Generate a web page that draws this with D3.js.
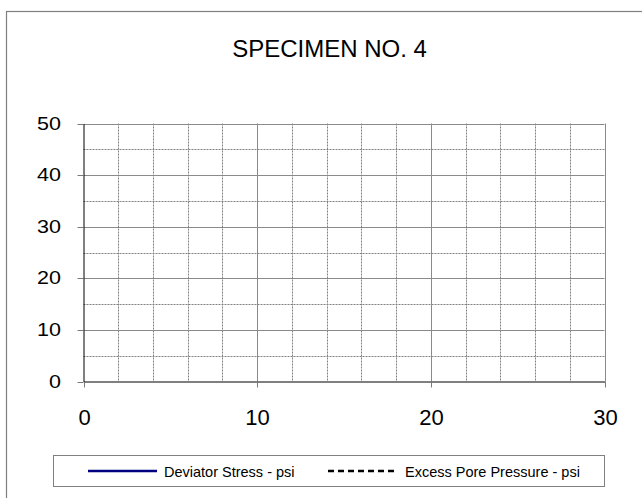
<!DOCTYPE html>
<html>
<head>
<meta charset="utf-8">
<script src="https://cdn.jsdelivr.net/npm/d3@7"></script>
<style>
  html, body { margin: 0; padding: 0; background: #fff; }
  svg { display: block; font-family: "Liberation Sans", Arial, sans-serif; }
</style>
</head>
<body>
<svg id="chart" width="642" height="498"></svg>
<script>
// ---- data ----
const chartTitle = "SPECIMEN NO. 4";
const xTicks = [0, 10, 20, 30];
const yTicks = [0, 10, 20, 30, 40, 50];
const xMinorTicks = [2, 4, 6, 8, 12, 14, 16, 18, 22, 24, 26, 28];
const yMinorTicks = [5, 15, 25, 35, 45];
const seriesNames = ["Deviator Stress - psi", "Excess Pore Pressure - psi"];
// the specimen plot carries no recorded points
const deviatorStress = [];      // [strain, psi]
const excessPorePressure = [];  // [strain, psi]

// ---- layout ----
const svg = d3.select("#chart");
const plot = { left: 83.5, right: 604.5, top: 123.5, bottom: 381.5 };

const x = d3.scaleLinear().domain([0, 30]).range([plot.left, plot.right]);
const y = d3.scaleLinear().domain([0, 50]).range([plot.bottom, plot.top]);

svg.append("rect").attr("width", 642).attr("height", 498).attr("fill", "#fff");

// outer chart border (only top and left visible in frame)
svg.append("rect")
  .attr("x", 6.5).attr("y", 11.5).attr("width", 700).attr("height", 600)
  .attr("fill", "none").attr("stroke", "#7f7f7f").attr("stroke-width", 1.2);

// title
svg.append("text")
  .attr("x", 329.5).attr("y", 57)
  .attr("text-anchor", "middle")
  .attr("font-size", 24)
  .attr("fill", "#000")
  .text(chartTitle);

// minor gridlines
const grid = svg.append("g");
grid.selectAll("line.xminor").data(xMinorTicks).join("line")
  .attr("x1", d => Math.round(x(d)) + 0.5).attr("x2", d => Math.round(x(d)) + 0.5)
  .attr("y1", plot.top).attr("y2", plot.bottom)
  .attr("stroke", "#808080").attr("stroke-width", 1).attr("stroke-dasharray", "2,1");
grid.selectAll("line.yminor").data(yMinorTicks).join("line")
  .attr("y1", d => Math.round(y(d)) + 0.5).attr("y2", d => Math.round(y(d)) + 0.5)
  .attr("x1", plot.left).attr("x2", plot.right)
  .attr("stroke", "#808080").attr("stroke-width", 1).attr("stroke-dasharray", "2,1");

// major gridlines
grid.selectAll("line.xmajor").data(xTicks.filter(d => d > 0)).join("line")
  .attr("x1", d => Math.round(x(d)) + 0.5).attr("x2", d => Math.round(x(d)) + 0.5)
  .attr("y1", plot.top).attr("y2", plot.bottom)
  .attr("stroke", "#8a8a8a").attr("stroke-width", 1);
grid.selectAll("line.ymajor").data(yTicks.filter(d => d > 0)).join("line")
  .attr("y1", d => Math.round(y(d)) + 0.5).attr("y2", d => Math.round(y(d)) + 0.5)
  .attr("x1", plot.left).attr("x2", plot.right)
  .attr("stroke", "#8a8a8a").attr("stroke-width", 1);

// axes
const xAxis = svg.append("g")
  .attr("transform", `translate(0,${plot.bottom})`)
  .call(d3.axisBottom(x).tickValues(xTicks).tickSizeInner(6).tickSizeOuter(0).tickPadding(22).tickFormat(d3.format("d")));
const yAxis = svg.append("g")
  .attr("transform", `translate(${plot.left},0)`)
  .call(d3.axisLeft(y).tickValues(yTicks).tickSizeInner(6).tickSizeOuter(0).tickPadding(16.5).tickFormat(d3.format("d")));

[xAxis, yAxis].forEach(a => {
  a.select(".domain").attr("stroke", "#000").attr("stroke-width", 1);
  a.selectAll(".tick line").attr("stroke", "#7a7a7a").attr("stroke-width", 1);
  a.selectAll(".tick text").attr("fill", "#000").attr("font-family", "'Liberation Sans', Arial, sans-serif");
});
xAxis.selectAll(".tick text").attr("font-size", 22);
yAxis.selectAll(".tick text").attr("font-size", 21.5).attr("transform", "scale(1,0.82)");
// snap ticks to pixel grid
xAxis.selectAll(".tick").attr("transform", d => `translate(${Math.round(x(d)) + 0.5},0)`);
yAxis.selectAll(".tick").attr("transform", d => `translate(0,${Math.round(y(d)) + 0.5})`);

// series (empty in this specimen chart)
const line = d3.line().x(d => x(d[0])).y(d => y(d[1]));
svg.append("path").datum(deviatorStress)
  .attr("d", line).attr("fill", "none").attr("stroke", "#000080").attr("stroke-width", 2.5);
svg.append("path").datum(excessPorePressure)
  .attr("d", line).attr("fill", "none").attr("stroke", "#000").attr("stroke-width", 2.5)
  .attr("stroke-dasharray", "6,4");

// legend
const lg = svg.append("g");
lg.append("rect")
  .attr("x", 53.5).attr("y", 455.5).attr("width", 551).attr("height", 31)
  .attr("fill", "#fff").attr("stroke", "#808080").attr("stroke-width", 1);
const legendItems = [
  { name: seriesNames[0], x1: 88, x2: 157, tx: 164, color: "#000080", dash: null },
  { name: seriesNames[1], x1: 328, x2: 397, tx: 405, color: "#000", dash: "6,4" }
];
legendItems.forEach(it => {
  lg.append("line")
    .attr("x1", it.x1).attr("x2", it.x2).attr("y1", 471).attr("y2", 471)
    .attr("stroke", it.color).attr("stroke-width", 2.5)
    .attr("stroke-dasharray", it.dash);
  lg.append("text")
    .attr("x", it.tx).attr("y", 477)
    .attr("font-size", 14.5).attr("fill", "#000")
    .text(it.name);
});
</script>
</body>
</html>
